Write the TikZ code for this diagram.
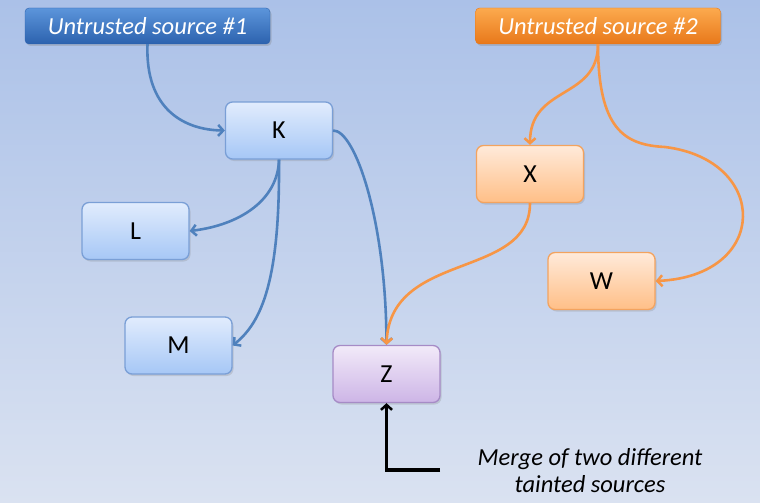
\documentclass[tikz,border=0pt]{standalone}
\usepackage{fontspec}
\setmainfont{Carlito}
\usetikzlibrary{arrows.meta,shadows}
\definecolor{bgtop}{HTML}{ABC1E8}
\definecolor{bgbot}{HTML}{DAE2F1}
\definecolor{bluelt}{HTML}{E1ECFD}
\definecolor{bluedk}{HTML}{A6C7F6}
\definecolor{blueln}{HTML}{7A9FD6}
\definecolor{src1t}{HTML}{5C95DB}
\definecolor{src1b}{HTML}{2C62AE}
\definecolor{src2t}{HTML}{FCAA4E}
\definecolor{src2b}{HTML}{E8781A}
\definecolor{orglt}{HTML}{FFEADA}
\definecolor{orgdk}{HTML}{FFBF87}
\definecolor{orgln}{HTML}{F3A35F}
\definecolor{purlt}{HTML}{F2EAF9}
\definecolor{purdk}{HTML}{CDB5E6}
\definecolor{purln}{HTML}{A68BC6}
\definecolor{eblue}{HTML}{4F81BD}
\definecolor{eorange}{HTML}{F79646}
\tikzset{
  x=1pt, y=-1pt,
  boxbase/.style={rounded corners=7pt, minimum width=107pt, minimum height=57pt, font=\fontsize{26}{30}\selectfont, line width=1.3pt, drop shadow={opacity=0.25, shadow xshift=1.5pt, shadow yshift=-2pt}},
  bluebox/.style={boxbase, draw=blueln, top color=bluelt, bottom color=bluedk},
  orangebox/.style={boxbase, draw=orgln, top color=orglt, bottom color=orgdk},
  purplebox/.style={boxbase, draw=purln, top color=purlt, bottom color=purdk},
  srcbox/.style={rounded corners=4pt, minimum width=245pt, minimum height=36pt, text=white, font=\fontsize{24.5}{28}\selectfont\itshape, drop shadow={opacity=0.3, shadow xshift=1.5pt, shadow yshift=-2pt}},
  src1/.style={srcbox, draw=src1b, top color=src1t, bottom color=src1b},
  src2/.style={srcbox, draw=src2b, top color=src2t, bottom color=src2b},
  tip/.style={-{Straight Barb[length=5pt,width=11pt,line width=2.5pt]}},
  bedge/.style={tip, draw=eblue, line width=2.6pt},
  oedge/.style={tip, draw=eorange, line width=2.6pt},
  kedge/.style={tip, draw=black, line width=3.5pt},
}
\begin{document}
\begin{tikzpicture}
\shade[top color=bgtop, bottom color=bgbot] (0,0) rectangle (760,503);
\useasboundingbox (0,0) rectangle (760,503);

\node[src1] (s1) at (147.5,26) {Untrusted source \#1};
\node[src2] (s2) at (598,26) {Untrusted source \#2};
\node[bluebox] (k) at (279,130.5) {K};
\node[bluebox] (l) at (135.5,231) {L};
\node[bluebox] (m) at (178.5,345.5) {M};
\node[purplebox] (z) at (386.5,374) {Z};
\node[orangebox] (x) at (530,174) {X};
\node[orangebox] (w) at (601.5,281) {W};

\draw[bedge] (s1.south) .. controls (145,110) and (185,130) .. (k.west);
\draw[bedge] (k.south) .. controls (278,200) and (240,225) .. (l.east);
\draw[bedge] (k.south) .. controls (280,280) and (262,322) .. (m.east);
\draw[bedge] (k.east) .. controls (355,130) and (386,220) .. (z.north);

\coordinate (wmid) at (665,147);
\draw[oedge] (s2.south) .. controls (598,100) and (530,85) .. (x.north);
\draw[oedge] (s2.south) .. controls (598,130) and (625,145) .. (wmid) .. controls (770,160) and (770,276) .. (w.east);
\draw[oedge] (x.south) .. controls (530,280) and (390,250) .. (z.north);

\coordinate (mstart) at (440,470);
\draw[kedge] (mstart) -- (386.5,470) -- (z.south);
\node[font=\fontsize{24.5}{27}\selectfont\itshape, align=center] (cap) at (590,471) {Merge of two different\\tainted sources};
\end{tikzpicture}
\end{document}
